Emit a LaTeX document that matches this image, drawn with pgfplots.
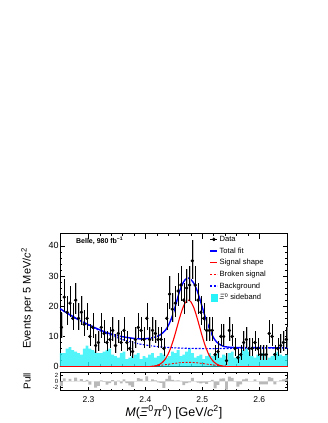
\documentclass[border=0pt]{standalone}
\usepackage{fontspec}
\setmainfont{Liberation Sans}
\usepackage{pgfplots}
\usepackage{pgfplotstable}
\pgfplotsset{compat=1.18}
\definecolor{rootblue}{rgb}{0,0,1}
\definecolor{rootred}{rgb}{1,0,0}
\definecolor{sideband}{rgb}{0.15,0.95,0.97}

\pgfplotstableread{
x y ep em
2.2525 13 4.71 3.57
2.2575 23 5.87 4.77
2.2625 18 5.33 4.21
2.2675 21 5.66 4.56
2.2725 16 5.09 3.97
2.2775 22 5.77 4.66
2.2825 16 5.09 3.97
2.2875 18 5.33 4.21
2.2925 14 4.84 3.71
2.2975 16 5.09 3.97
2.3025 10 4.28 3.12
2.3075 13 4.71 3.57
2.3125 7 3.78 2.60
2.3175 8 3.96 2.78
2.3225 13 4.71 3.57
2.3275 11 4.43 3.28
2.3325 8 3.96 2.78
2.3375 9 4.12 2.96
2.3425 12 4.57 3.43
2.3475 7 3.78 2.60
2.3525 11 4.43 3.28
2.3575 8 3.96 2.78
2.3625 12 4.57 3.43
2.3675 8 3.96 2.78
2.3725 6 3.60 2.40
2.3775 5 3.40 2.18
2.3825 9 4.12 2.96
2.3875 13 4.71 3.57
2.3925 12 4.57 3.43
2.3975 9 4.12 2.96
2.4025 16 5.09 3.97
2.4075 9 4.12 2.96
2.4125 12 4.57 3.43
2.4175 11 4.43 3.28
2.4225 9 4.12 2.96
2.4275 9 4.12 2.96
2.4325 6 3.60 2.40
2.4375 16 5.09 3.97
2.4425 24 5.97 4.87
2.4475 19 5.45 4.33
2.4525 21 5.66 4.56
2.4575 25 6.07 4.97
2.4625 27 6.27 5.17
2.4675 22 5.77 4.66
2.4725 26 6.17 5.07
2.4775 27 6.27 5.17
2.4825 35 6.98 5.90
2.4875 27 6.27 5.17
2.4925 22 5.77 4.66
2.4975 18 5.33 4.21
2.5025 16 5.09 3.97
2.5075 12 4.57 3.43
2.5125 12 4.57 3.43
2.5175 12 4.57 3.43
2.5225 4 3.18 1.94
2.5275 5 3.40 2.18
2.5325 10 4.28 3.12
2.5375 10 4.28 3.12
2.5425 2 2.66 1.32
2.5475 12 4.57 3.43
2.5525 10 4.28 3.12
2.5575 6 3.60 2.40
2.5625 3 2.94 1.66
2.5675 4 3.18 1.94
2.5725 8 3.96 2.78
2.5775 9 4.12 2.96
2.5825 6 3.60 2.40
2.5875 6 3.60 2.40
2.5925 8 3.96 2.78
2.5975 6 3.60 2.40
2.6025 4 3.18 1.94
2.6075 4 3.18 1.94
2.6125 4 3.18 1.94
2.6175 11 4.43 3.28
2.6225 10 4.28 3.12
2.6275 4 3.18 1.94
2.6325 6 3.60 2.40
2.6375 7 3.78 2.60
2.6425 8 3.96 2.78
2.6475 9 4.12 2.96
}\datatab

\pgfplotstableread{
x h p
2.2525 4.5 -1.63
2.2575 4.5 0.98
2.2625 6.0 0.07
2.2675 6.5 0.83
2.2725 5.5 -0.15
2.2775 5.0 1.26
2.2825 4.5 0.13
2.2875 4.0 0.71
2.2925 6.0 -0.16
2.2975 7.0 0.48
2.3025 6.0 -1.17
2.3075 5.5 -0.06
2.3125 5.0 -2.19
2.3175 4.5 -1.56
2.3225 4.5 0.28
2.3275 5.0 -0.18
2.3325 5.5 -1.17
2.3375 6.0 -0.67
2.3425 4.0 0.38
2.3475 3.5 -1.28
2.3525 3.0 0.24
2.3575 4.5 -0.71
2.3625 5.0 0.64
2.3675 2.5 -0.60
2.3725 3.0 -1.43
2.3775 3.5 -1.96
2.3825 4.0 -0.10
2.3875 4.5 1.05
2.3925 2.5 0.81
2.3975 3.5 -0.07
2.4025 3.0 1.68
2.4075 4.0 -0.13
2.4125 4.5 0.69
2.4175 3.0 0.36
2.4225 3.5 -0.40
2.4275 4.5 -0.57
2.4325 4.0 -2.24
2.4375 3.0 0.83
2.4425 3.5 1.94
2.4475 5.0 0.46
2.4525 4.5 0.22
2.4575 5.5 0.34
2.4625 3.5 0.17
2.4675 4.0 -1.30
2.4725 5.0 -0.61
2.4775 6.0 -0.40
2.4825 4.5 1.15
2.4875 3.0 0.08
2.4925 3.5 -0.47
2.4975 4.0 -0.75
2.5025 2.5 -0.50
2.5075 3.5 -0.90
2.5125 4.5 -0.17
2.5175 3.5 0.46
2.5225 4.0 -2.40
2.5275 4.5 -1.25
2.5325 3.0 0.92
2.5375 4.0 1.04
2.5425 3.5 -2.90
2.5475 4.5 1.62
2.5525 5.0 1.17
2.5575 3.0 -0.08
2.5625 3.5 -1.85
2.5675 4.0 -1.10
2.5725 5.5 0.64
2.5775 6.0 0.93
2.5825 5.0 -0.08
2.5875 3.5 -0.08
2.5925 3.0 0.64
2.5975 4.0 -0.08
2.6025 3.5 -1.10
2.6075 4.5 -1.10
2.6125 4.0 -1.10
2.6175 3.0 1.45
2.6225 3.5 1.20
2.6275 4.5 -1.10
2.6325 5.0 -0.08
2.6375 4.0 0.30
2.6425 3.5 0.64
2.6475 4.0 0.93
}\sbtab

\pgfplotstableread{
x y
2.25 19.2
2.26 18.0
2.27 16.9
2.28 15.8
2.29 14.8
2.30 13.9
2.31 13.0
2.32 12.2
2.33 11.4
2.34 10.8
2.35 10.3
2.36 9.9
2.37 9.6
2.38 9.35
2.39 9.2
2.40 9.25
2.41 9.5
2.42 9.95
2.425 10.4
2.43 11.1
2.435 12.0
2.44 13.5
2.445 15.6
2.45 18.3
2.455 21.6
2.46 24.9
2.465 27.3
2.47 28.8
2.4755 29.3
2.48 28.8
2.485 27.6
2.49 25.6
2.495 22.8
2.50 19.6
2.505 16.5
2.51 13.8
2.515 11.4
2.52 9.5
2.525 8.2
2.53 7.4
2.535 6.9
2.54 6.6
2.55 6.4
2.56 6.35
2.58 6.3
2.60 6.3
2.62 6.25
2.65 6.25
}\totaltab

\pgfplotstableread{
x y
2.25 19.2
2.27 16.8
2.29 14.7
2.31 12.8
2.33 11.1
2.35 9.6
2.37 8.4
2.39 7.5
2.41 6.9
2.43 6.5
2.45 6.25
2.47 6.1
2.50 6.0
2.53 6.0
2.56 6.05
2.60 6.1
2.65 6.2
}\bkgtab

\pgfplotstableread{
x y
2.25 0
2.40 0
2.41 0.08
2.42 0.38
2.425 0.77
2.43 1.45
2.435 2.54
2.44 4.19
2.445 6.47
2.45 9.35
2.455 12.66
2.46 16.04
2.465 19.03
2.47 21.15
2.4755 22.0
2.48 21.42
2.485 19.54
2.49 16.68
2.495 13.34
2.50 9.98
2.505 7.0
2.51 4.6
2.515 2.82
2.52 1.62
2.525 0.88
2.53 0.44
2.54 0.09
2.55 0
2.65 0
}\sigtab

\pgfplotstableread{
x y
2.25 0
2.40 0.05
2.42 0.3
2.44 0.8
2.46 1.3
2.475 1.45
2.49 1.3
2.51 0.8
2.53 0.3
2.55 0.05
2.65 0
}\brktab

\begin{document}
\begin{tikzpicture}[x=1pt,y=1pt]
\begin{axis}[
  name=main,
  at={(0,0)}, anchor=south west, scale only axis,
  width=227.7pt, height=133.1pt,
  xmin=2.25, xmax=2.65, ymin=0, ymax=44,
  xtick={2.3,2.4,2.5,2.6}, xticklabels={}, minor x tick num=4,
  ytick={0,10,20,30,40}, minor y tick num=4,
  tick align=inside,
  major tick length=5pt, minor tick length=2.5pt,
  tick style={line width=0.4pt, black},
  axis line style={line width=0.5pt},
  /pgf/number format/assume math mode=true,
  yticklabel style={font=\fontsize{9}{10}\selectfont, inner sep=1.2pt},
  ylabel={Events per 5 MeV/\textit{c}\textsuperscript{2}},
  every axis y label/.style={at={(axis description cs:-0.145,0.917)}, rotate=90, anchor=east, font=\fontsize{11}{12}\selectfont},
  legend cell align=left,
  legend style={at={(axis description cs:0.656,0.99)}, anchor=north west,
    draw=none, fill=none, font=\fontsize{7.6}{8.5}\selectfont,
    row sep=3.3pt, column sep=1pt, inner sep=0pt,
    nodes={inner sep=0.6pt, text height=5.6pt, text depth=1.6pt}},
]
% sideband histogram
\addplot[ybar, bar width=0.005, fill=sideband, draw=none, fill opacity=0.8, forget plot] table[x=x, y=h]{\sbtab};
% components
\addplot[rootblue, line width=1.1pt, dash pattern=on 2pt off 1.5pt, forget plot, smooth] table{\bkgtab};
\addplot[rootred, line width=0.9pt, dash pattern=on 2pt off 1.5pt, forget plot, smooth] table{\brktab};
\addplot[rootred, line width=1.1pt, forget plot, smooth] table{\sigtab};
\addplot[rootblue, line width=1.4pt, forget plot, smooth] table{\totaltab};
% data: grey and black error bars
\addplot[draw=none, mark=none, forget plot,
  error bars/.cd, y dir=both, y explicit, error mark=none,
  error bar style={draw=gray!50, line width=0.8pt}]
  table[x expr=\thisrow{x}+0.0011, y=y, y error plus=ep, y error minus=em]{\datatab};
\addplot[only marks, mark=*, mark size=1.5pt, black, forget plot,
  error bars/.cd, y dir=both, y explicit, error mark=none,
  error bar style={black, line width=0.4pt}]
  table[x=x, y=y, y error plus=ep, y error minus=em]{\datatab};
% legend
\addlegendimage{legend image code/.code={\draw[black, line width=0.4pt] (0pt,0pt)--(7pt,0pt); \fill[black] (3.5pt,0pt) circle (1.6pt);}}
\addlegendentry{Data}
\addlegendimage{legend image code/.code={\draw[rootblue, line width=1.5pt] (0pt,0pt)--(7pt,0pt);}}
\addlegendentry{Total fit}
\addlegendimage{legend image code/.code={\draw[rootred, line width=1.3pt] (0pt,0pt)--(7pt,0pt);}}
\addlegendentry{Signal shape}
\addlegendimage{legend image code/.code={\draw[rootred, line width=1.1pt, dash pattern=on 2pt off 1.5pt] (0pt,0pt)--(7pt,0pt);}}
\addlegendentry{Broken signal}
\addlegendimage{legend image code/.code={\draw[rootblue, line width=1.3pt, dash pattern=on 2pt off 1.5pt] (0pt,0pt)--(7pt,0pt);}}
\addlegendentry{Background}
\addlegendimage{legend image code/.code={\fill[sideband] (0.5pt,-3.5pt) rectangle (6.5pt,3.5pt);}}
\addlegendentry{\textit{Ξ}\textsuperscript{0} sideband}
\node[anchor=west, font=\bfseries\fontsize{7}{8}\selectfont, inner sep=0pt] at (axis description cs:0.07,0.947) {Belle, 980 fb\textsuperscript{−1}};
\end{axis}

\begin{axis}[
  name=pull,
  at={(main.south west)}, anchor=north west, yshift=-5.6pt, scale only axis,
  width=227.7pt, height=17.7pt,
  xmin=2.25, xmax=2.65, ymin=-3, ymax=3.1,
  xtick={2.3,2.4,2.5,2.6}, minor x tick num=4,
  ytick={-2,0,2}, minor y tick num=1,
  tick align=inside,
  major tick length=3pt, minor tick length=1.5pt,
  tick style={line width=0.4pt, black},
  axis line style={line width=0.5pt},
  /pgf/number format/assume math mode=true,
  xticklabel style={font=\fontsize{8.5}{9}\selectfont, anchor=base, yshift=-12.7pt},
  yticklabel style={font=\fontsize{6}{6}\selectfont, inner sep=1.5pt},
  xlabel={\textit{M}(\textit{Ξ}\textsuperscript{0}\textit{π}\textsuperscript{0}) [GeV/\textit{c}\textsuperscript{2}]},
  every axis x label/.style={at={(axis description cs:0.5,0)}, anchor=base, yshift=-26pt, font=\fontsize{12.5}{14}\selectfont},
  ylabel={Pull},
  every axis y label/.style={at={(axis description cs:-0.145,0.5)}, rotate=90, anchor=center, font=\fontsize{10}{11}\selectfont},
]
\addplot[ybar, bar width=0.005, fill=gray!55, draw=none] table[x=x, y=p]{\sbtab};
\end{axis}
\pgfresetboundingbox
\path[use as bounding box] (main.south west) ++(-60,-56.3) rectangle ++(327,423);
\end{tikzpicture}
\end{document}
